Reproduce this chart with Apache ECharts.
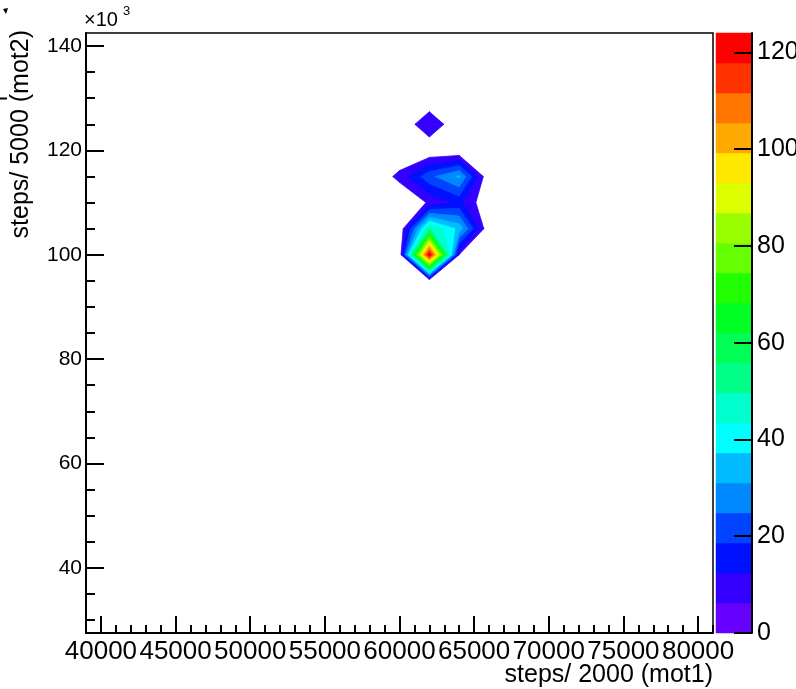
<!DOCTYPE html>
<html>
<head>
<meta charset="utf-8">
<script src="https://cdn.jsdelivr.net/npm/echarts@6/dist/echarts.min.js"></script>
<style>
  html, body { margin: 0; padding: 0; background: #ffffff; }
  #chart { width: 796px; height: 689px; }
</style>
</head>
<body>
<div id="chart"></div>
<script>
// Bin centres (steps) of the populated part of the 2D histogram; every bin outside is empty.
const mot1Centers = [58000, 60000, 62000, 64000, 66000];
const mot2Centers = [95000, 100000, 105000, 110000, 115000, 120000, 125000, 130000];

// Entries per bin, one row per mot2 centre (bottom to top), columns follow mot1Centers.
const row95k  = [0, 0,   0,  0, 0];
const row100k = [0, 0, 124,  6, 0];
const row105k = [0, 0,  50, 35, 0];
const row110k = [0, 0,   7, 14, 0];
const row115k = [0, 8,  23, 32, 0];
const row120k = [0, 0,   0,  0, 0];
const row125k = [0, 0,  12,  0, 0];
const row130k = [0, 0,   0,  0, 0];
const counts = [row95k, row100k, row105k, row110k, row115k, row120k, row125k, row130k];

// Axis ranges and labelled ticks
const mot1Range = [39000, 81000];
const mot2Range = [27500, 142500];
const xTickLabels = [40000, 45000, 50000, 55000, 60000, 65000, 70000, 75000, 80000];
const yTickLabels = [40000, 60000, 80000, 100000, 120000, 140000];
const zTickLabels = [0, 20, 40, 60, 80, 100, 120];
const zMax = 124;
const nLevels = 20;

// Colour of each contour band, lowest first
const palette = [
  '#6600ff', '#3300ff', '#0011ff', '#0044ff', '#0088ff',
  '#00bbff', '#00ffff', '#00ffcc', '#00ff88', '#00ff55',
  '#00ff22', '#22ff00', '#66ff00', '#99ff00', '#ddff00',
  '#ffe800', '#ffaa00', '#ff7700', '#ff3300', '#ff0000'
];

const levels = [];
for (let k = 0; k <= nLevels; k++) levels.push(k * zMax / nLevels);

// Unlabelled (short) ticks
const xMinorTicks = [];
for (let v = 39000; v <= 81000; v += 1000) if (v % 5000 !== 0) xMinorTicks.push(v);
const yMinorTicks = [];
for (let v = 30000; v <= 140000; v += 5000) if (v % 20000 !== 0) yMinorTicks.push(v);

// Part of a cell (corners with values) where the content is >= level,
// with straight edges between the linearly interpolated crossings.
function clipAbove(poly, level) {
  const out = [];
  for (let i = 0; i < poly.length; i++) {
    const a = poly[i], b = poly[(i + 1) % poly.length];
    const ain = a.v >= level, bin = b.v >= level;
    if (ain) out.push(a);
    if (ain !== bin) {
      const t = (level - a.v) / (b.v - a.v);
      out.push({ x: a.x + t * (b.x - a.x), y: a.y + t * (b.y - a.y), v: level });
    }
  }
  return out;
}

// One item per (cell, level), ordered by level so higher bands paint over lower ones
const contourItems = [];
for (let k = 1; k < nLevels; k++) {
  for (let r = 0; r < mot2Centers.length - 1; r++) {
    for (let c = 0; c < mot1Centers.length - 1; c++) {
      contourItems.push([mot1Centers[c], mot2Centers[r], c, r, k]);
    }
  }
}

function renderContourCell(params, api) {
  const c = api.value(2), r = api.value(3), k = api.value(4);
  const x0 = mot1Centers[c], x1 = mot1Centers[c + 1];
  const y0 = mot2Centers[r], y1 = mot2Centers[r + 1];
  const quad = [
    { x: x0, y: y0, v: counts[r][c] },
    { x: x1, y: y0, v: counts[r][c + 1] },
    { x: x1, y: y1, v: counts[r + 1][c + 1] },
    { x: x0, y: y1, v: counts[r + 1][c] }
  ];
  const poly = clipAbove(quad, levels[k]);
  if (poly.length < 3) return null;
  return {
    type: 'polygon',
    shape: { points: poly.map(p => api.coord([p.x, p.y])) },
    style: { fill: palette[k], stroke: palette[k], lineWidth: 0.8 }
  };
}

// Colour scale bands
const bandItems = [];
for (let k = 0; k < nLevels; k++) bandItems.push([0.5, (levels[k] + levels[k + 1]) / 2, k]);

function renderBand(params, api) {
  const k = api.value(2);
  const top = api.coord([0, levels[k + 1]]);
  const bottom = api.coord([1, levels[k]]);
  return {
    type: 'rect',
    shape: { x: top[0], y: top[1], width: bottom[0] - top[0], height: bottom[1] - top[1] },
    style: { fill: palette[k], stroke: palette[k], lineWidth: 0.5 }
  };
}

const FONT = 'Liberation Sans';
const black = '#000000';

const chart = echarts.init(document.getElementById('chart'), null, { renderer: 'canvas' });
chart.setOption({
  animation: false,
  backgroundColor: '#ffffff',
  grid: [
    {
      left: 86, top: 33, width: 627, height: 600, containLabel: false, outerBoundsMode: 'none',
      show: true, borderColor: black, borderWidth: 1.5, backgroundColor: 'transparent'
    },
    { left: 716, top: 33, width: 36, height: 600, containLabel: false, outerBoundsMode: 'none', show: false }
  ],
  xAxis: [
    {
      gridIndex: 0, type: 'value', min: mot1Range[0], max: mot1Range[1], position: 'bottom',
      axisLine: { show: true, onZero: false, lineStyle: { color: black, width: 2 } },
      axisTick: { show: true, inside: true, length: 17, lineStyle: { color: black, width: 2 }, customValues: xTickLabels },
      axisLabel: { show: true, customValues: xTickLabels, color: black, fontFamily: FONT, fontSize: 26, margin: 6, formatter: v => String(v) },
      splitLine: { show: false }
    },
    {
      gridIndex: 0, type: 'value', min: mot1Range[0], max: mot1Range[1], position: 'bottom',
      axisLine: { show: false, onZero: false },
      axisTick: { show: true, inside: true, length: 8, lineStyle: { color: black, width: 2 }, customValues: xMinorTicks },
      axisLabel: { show: false },
      splitLine: { show: false }
    },
    { gridIndex: 1, type: 'value', min: 0, max: 1, show: false, axisLine: { onZero: false } }
  ],
  yAxis: [
    {
      gridIndex: 0, type: 'value', min: mot2Range[0], max: mot2Range[1], position: 'left',
      axisLine: { show: true, onZero: false, lineStyle: { color: black, width: 2 } },
      axisTick: { show: true, inside: true, length: 18, lineStyle: { color: black, width: 2 }, customValues: yTickLabels },
      axisLabel: { show: true, customValues: yTickLabels, color: black, fontFamily: FONT, fontSize: 21, margin: 4, formatter: v => String(v / 1000) },
      splitLine: { show: false }
    },
    {
      gridIndex: 0, type: 'value', min: mot2Range[0], max: mot2Range[1], position: 'left',
      axisLine: { show: false, onZero: false },
      axisTick: { show: true, inside: true, length: 9, lineStyle: { color: black, width: 2 }, customValues: yMinorTicks },
      axisLabel: { show: false },
      splitLine: { show: false }
    },
    {
      gridIndex: 1, type: 'value', min: 0, max: zMax, position: 'right', z: 10,
      axisLine: { show: true, onZero: false, lineStyle: { color: black, width: 2 } },
      axisTick: { show: true, inside: true, length: 18, lineStyle: { color: black, width: 2 }, customValues: zTickLabels },
      axisLabel: { show: true, customValues: zTickLabels, color: black, fontFamily: FONT, fontSize: 25, margin: 5 },
      splitLine: { show: false }
    }
  ],
  series: [
    {
      type: 'custom', name: 'counts', xAxisIndex: 0, yAxisIndex: 0,
      data: contourItems, encode: { x: 0, y: 1 },
      renderItem: renderContourCell, silent: true, clip: true
    },
    {
      type: 'custom', name: 'palette', xAxisIndex: 2, yAxisIndex: 2,
      data: bandItems, encode: { x: 0, y: 1 },
      renderItem: renderBand, silent: true, z: 1
    }
  ],
  graphic: [
    { type: 'text', left: 84, top: 10, style: { text: '×10', fontFamily: FONT, fontSize: 20, fill: black } },
    { type: 'text', left: 123, top: 5, style: { text: '3', fontFamily: FONT, fontSize: 13, fill: black } },
    { type: 'text', right: 83, top: 663, style: { text: 'steps/ 2000 (mot1)', fontFamily: FONT, fontSize: 25, fill: black } },
    {
      type: 'text', x: 21, y: 30, rotation: Math.PI / 2,
      style: { text: 'steps/ 5000 (mot2)', fontFamily: FONT, fontSize: 25, fill: black, align: 'right', verticalAlign: 'middle' }
    },
    // small stray marks at the left page edge
    { type: 'polygon', shape: { points: [[3, 9], [8, 8], [6, 14]] }, style: { fill: black } },
    { type: 'rect', shape: { x: 0, y: 97.5, width: 7, height: 2 }, style: { fill: black } }
  ]
});
</script>
</body>
</html>
